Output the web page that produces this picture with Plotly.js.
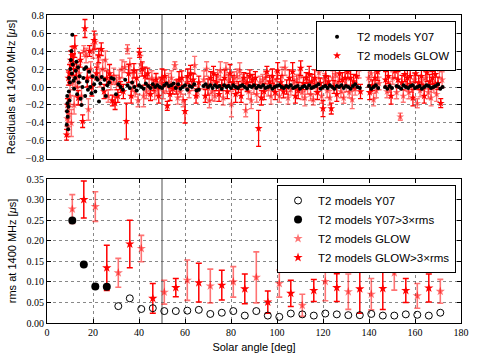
<!DOCTYPE html>
<html>
<head>
<meta charset="utf-8">
<script src="https://cdn.plot.ly/plotly-3.0.1.min.js"></script>
<style>
  html, body { margin: 0; padding: 0; background: #fff; }
  #plotArea { width: 480px; height: 360px; }
</style>
</head>
<body>
<div id="plotArea"></div>
<script>
// top panel: per-TOA residuals
var y07Angle = [
  8.6, 8.7, 8.8, 8.9, 9.0, 9.2, 9.3, 9.5, 9.6, 9.8, 10.0, 10.2, 10.4, 10.6, 10.8, 11.0, 11.2, 11.5, 11.8, 12.2, 12.5, 12.8, 13.1, 13.5, 13.8,
  14.2, 14.6, 15.0, 15.4, 15.8, 16.2, 16.6, 17.0, 17.4, 17.8, 18.3, 18.8, 19.3, 19.8, 20.5, 21.0, 21.5, 22.0, 22.6, 23.2, 23.8, 24.4, 25.0, 25.6, 26.2,
  27, 28, 29, 30, 31, 32, 33, 34, 35, 36, 37, 38, 39, 40, 41, 42, 43, 44, 45, 46, 47, 48,
  49, 50, 51, 52, 53, 54, 55, 56, 57, 58, 59, 60, 61, 62, 63, 64, 65, 66,
  68, 69, 70, 71, 72, 73, 74, 75, 76, 77, 78, 79, 80, 81, 82, 83, 84, 85, 86, 87, 88, 89, 90,
  91, 92, 93, 94, 95, 96, 97, 98, 99, 100, 101, 102, 103, 104, 105, 106, 107, 108, 109, 110, 111, 112, 113,
  114, 115, 116, 117, 118, 119, 120, 121, 122, 123, 124, 125, 126, 127, 128, 129, 130, 131, 132, 133, 134, 135, 136,
  140, 141, 142, 143, 144,
  147, 148, 149, 150,
  152, 153, 154, 155, 156, 157, 158, 159, 160, 161, 162, 163, 164, 165, 166, 167, 168, 169, 170, 171, 172
];
var y07Res = [
  -0.42, -0.27, -0.10, -0.18, -0.33, -0.47, -0.22, -0.05, 0.10, -0.15, 0.05, 0.20, 0.30, 0.40, 0.15, 0.58, 0.25, 0.07, -0.02, 0.10, 0.18, 0.28, -0.08, 0.22, 0.05,
  0.12, -0.13, -0.20, 0.00, 0.10, 0.20, -0.10, 0.22, 0.06, -0.03, 0.17, 0.00, -0.07, 0.12, 0.03, -0.05, 0.10, 0.08, -0.16, 0.04, 0.11, -0.02, 0.08, -0.10, 0.02,
  0.05, 0.10, 0.09, -0.08, 0.03, 0.00, -0.03, 0.08, 0.02, -0.01, 0.05, 0.00, -0.04, 0.02, 0.00, -0.02, 0.04, 0.01, -0.01, 0.03, 0.00, 0.02,
  0.00, -0.01, 0.02, 0.04, 0.01, 0.02, 0.04, -0.01, 0.03, -0.02, 0.00, 0.02, -0.03, 0.01, 0.00, 0.03, -0.04, -0.03,
  0.01, 0.03, 0.00, 0.02, -0.01, 0.02, 0.00, 0.01, -0.02, 0.02, 0.00, 0.01, -0.01, 0.02, 0.00, -0.01, 0.01, 0.02, 0.00, -0.02, 0.01, 0.00, 0.02,
  -0.01, 0.01, 0.00, 0.02, -0.01, 0.00, 0.01, -0.02, 0.00, 0.01, 0.02, 0.00, -0.01, 0.01, 0.00, 0.02, -0.01, 0.00, 0.01, -0.02, 0.00, 0.01, -0.01,
  0.02, -0.01, 0.00, 0.01, 0.03, -0.02, 0.00, 0.01, -0.01, 0.02, 0.00, -0.02, 0.01, 0.00, 0.02, -0.01, 0.01, 0.00, -0.02, 0.01, 0.03, 0.00, -0.01,
  0.01, -0.02, 0.00, 0.02, -0.01,
  0.00, -0.02, 0.01, -0.01,
  0.01, 0.00, -0.02, 0.02, 0.00, -0.01, 0.01, 0.02, -0.01, 0.00, 0.01, -0.02, 0.00, 0.02, 0.01, -0.01, 0.00, 0.01, 0.03, -0.02, 0.00
];

var glowAngle = [
  8.5, 8.7, 8.9, 9.1, 9.3, 9.5, 9.8, 10.0, 10.3, 10.6, 10.9, 11.2, 11.5, 11.8, 12.1, 12.4, 12.8, 13.2, 13.6,
  14.0, 14.5, 15.0, 15.5, 16.0, 16.5, 17.0, 17.5, 18.0, 18.5, 19.0, 19.5, 20.0, 20.5, 21.0, 21.5, 22.0, 22.5, 23.0, 23.6, 24.2, 24.8, 25.4, 26.0, 26.6, 27.2, 27.8, 28.4, 29.0, 29.6,
  30.2, 30.8, 31.4, 32.0, 32.6, 33.2, 33.8, 34.5, 35.0, 35.5, 36.0, 36.6, 37.2, 37.8, 38.4, 39.0, 39.6, 40.2, 40.8, 41.4, 42.0, 42.6, 43.2, 43.8, 44.4, 45.0, 45.6, 46.2, 46.8, 47.4, 48.0, 48.6, 49.2,
  50.0, 50.6, 51.2, 51.8, 52.3, 52.9, 53.5, 54.1, 54.7, 55.6, 56.2, 56.8, 57.4, 58.0, 58.6, 59.2, 60.0, 60.6, 61.2, 61.8, 62.4, 63.0, 63.6, 64.2, 64.8, 65.4, 66.0,
  68.2, 68.8, 69.4, 70.0, 70.6, 71.2, 71.8, 72.4, 73.0, 73.6, 74.2, 74.8, 75.4, 76.0, 76.6, 77.2, 77.8, 78.4, 79.0, 79.6, 80.2, 80.8, 81.4, 82.0, 82.6, 83.2, 83.8, 84.4, 85.0, 85.6,
  86.4, 87.0, 87.6, 88.2, 88.8, 89.4, 90.0, 90.6, 91.2, 92.0, 92.6, 93.2, 93.8, 94.4, 95.0, 95.6, 96.2, 96.8, 97.4, 98.0, 98.6, 99.2, 99.8,
  100.3, 101.0, 101.6, 102.2, 102.8, 103.5, 104.2, 104.8, 105.4, 106.0, 106.8, 107.4, 108.0, 108.6, 109.2, 109.8, 110.3, 110.9, 111.5, 112.1, 112.7, 113.3,
  114.0, 114.6, 115.2, 115.8, 116.4, 117.0, 117.6, 118.2, 118.8, 119.4, 120.0, 120.6, 121.2, 121.8, 122.4, 123.0, 123.6, 124.2, 124.8, 125.4, 126.0, 126.6,
  127.2, 127.8, 128.4, 129.0, 129.6, 130.2, 130.8, 131.4, 132.0, 132.7, 133.3, 134.0, 134.6, 135.7, 136.3,
  139.8, 140.3, 140.9, 141.5, 142.0, 142.6, 143.2, 143.8, 144.4,
  147.2, 147.8, 148.4, 149.0, 149.6, 150.3, 151.3, 152.0, 152.6, 153.6, 154.3, 154.9, 155.5, 156.1, 156.7, 157.3, 157.9, 158.5, 159.1, 159.7,
  160.3, 161.0, 161.6, 162.2, 162.8, 163.4, 164.0, 164.6, 165.2, 165.8, 166.4, 167.0, 167.6, 168.2, 168.8, 169.4, 170.0, 170.6, 171.2, 171.8
];
var glowRes = [
  -0.53, -0.35, -0.20, -0.45, 0.10, -0.30, 0.15, -0.10, 0.30, -0.40, 0.35, 0.05, 0.25, -0.20, 0.45, 0.10, 0.20, 0.00, -0.12,
  0.15, 0.30, -0.10, -0.38, 0.40, 0.65, 0.35, 0.10, -0.25, 0.40, 0.20, 0.00, 0.40, 0.52, 0.50, 0.15, 0.25, 0.35, 0.10, 0.42, 0.20, -0.05, 0.30, 0.10, -0.10, 0.15, 0.05, -0.15, 0.12, -0.18,
  0.05, -0.10, 0.10, 0.00, 0.20, -0.05, 0.22, -0.38, 0.42, 0.15, 0.25, -0.10, 0.05, 0.18, -0.05, 0.10, -0.15, 0.38, 0.25, 0.20, -0.10, 0.12, -0.05, 0.15, 0.00, -0.08, 0.10, 0.02, -0.05, 0.08, 0.00, -0.10, 0.05,
  0.10, -0.05, 0.12, 0.02, -0.21, 0.05, -0.08, 0.10, -0.02, 0.24, 0.00, -0.12, 0.08, -0.05, 0.10, -0.15, -0.27, 0.05, 0.12, -0.05, 0.15, 0.02, 0.08, 0.24, -0.10, -0.05, 0.05,
  0.08, -0.10, 0.20, 0.00, -0.15, 0.10, -0.05, 0.15, -0.10, 0.05, 0.12, -0.08, 0.18, 0.02, -0.12, 0.10, 0.20, -0.05, 0.08, 0.15, -0.19, 0.05, 0.10, -0.08, 0.12, 0.00, 0.18, -0.10, 0.06, 0.10,
  -0.26, 0.05, -0.05, 0.12, -0.15, 0.08, 0.00, 0.10, -0.08, -0.46, 0.05, -0.12, 0.08, -0.05, 0.10, 0.17, -0.02, 0.06, -0.10, 0.12, 0.02, -0.06, 0.08,
  0.18, -0.10, 0.05, 0.12, -0.05, 0.21, 0.00, -0.12, 0.10, -0.03, 0.17, 0.05, -0.10, 0.08, -0.04, 0.12, 0.21, -0.06, 0.04, -0.12, 0.10, 0.00,
  0.14, -0.08, 0.06, -0.14, 0.10, 0.02, -0.06, 0.16, 0.04, -0.10, -0.24, 0.08, 0.12, -0.04, 0.06, -0.12, -0.24, 0.10, 0.00, 0.14, -0.08, 0.05,
  0.15, -0.05, 0.08, -0.12, 0.10, 0.02, 0.17, -0.06, 0.10, -0.14, 0.06, -0.02, 0.12, 0.20, -0.05,
  0.10, -0.06, 0.15, 0.02, -0.14, 0.10, -0.04, 0.17, 0.04,
  0.08, -0.05, 0.12, 0.00, -0.10, 0.10, 0.18, -0.06, 0.08, -0.33, 0.05, -0.10, 0.14, 0.02, 0.10, -0.06, 0.12, 0.00, -0.12, 0.08,
  0.15, -0.18, 0.05, -0.04, 0.12, 0.02, -0.10, 0.10, 0.16, -0.06, 0.06, -0.12, 0.10, 0.00, 0.14, -0.08, 0.04, 0.20, -0.18, 0.08
];
var glowErr = [
  0.06, 0.08, 0.07, 0.10, 0.08, 0.09, 0.10, 0.12, 0.10, 0.15, 0.10, 0.08, 0.12, 0.10, 0.12, 0.10, 0.08, 0.10, 0.08,
  0.10, 0.08, 0.10, 0.07, 0.06, 0.10, 0.08, 0.10, 0.12, 0.06, 0.08, 0.10, 0.08, 0.10, 0.08, 0.07, 0.10, 0.08, 0.10, 0.07, 0.10, 0.08, 0.10, 0.08, 0.07, 0.10, 0.08, 0.06, 0.09, 0.07,
  0.08, 0.07, 0.09, 0.06, 0.10, 0.08, 0.06, 0.20, 0.05, 0.10, 0.07, 0.08, 0.10, 0.08, 0.06, 0.09, 0.07, 0.05, 0.10, 0.08, 0.12, 0.10, 0.08, 0.06, 0.09, 0.07, 0.08, 0.06, 0.09, 0.07, 0.10, 0.08, 0.06,
  0.10, 0.08, 0.07, 0.09, 0.05, 0.10, 0.07, 0.08, 0.06, 0.04, 0.08, 0.07, 0.09, 0.06, 0.08, 0.07, 0.13, 0.06, 0.08, 0.07, 0.09, 0.06, 0.07, 0.10, 0.08, 0.06, 0.07,
  0.10, 0.07, 0.08, 0.09, 0.08, 0.07, 0.10, 0.08, 0.06, 0.09, 0.07, 0.08, 0.10, 0.06, 0.08, 0.09, 0.07, 0.08, 0.06, 0.10, 0.14, 0.08, 0.07, 0.09, 0.08, 0.06, 0.09, 0.07, 0.08, 0.06,
  0.07, 0.10, 0.08, 0.07, 0.09, 0.06, 0.08, 0.07, 0.09, 0.20, 0.07, 0.08, 0.06, 0.09, 0.07, 0.06, 0.08, 0.07, 0.09, 0.08, 0.06, 0.08, 0.09,
  0.09, 0.07, 0.08, 0.10, 0.07, 0.08, 0.08, 0.07, 0.09, 0.06, 0.10, 0.07, 0.08, 0.06, 0.09, 0.07, 0.08, 0.08, 0.07, 0.09, 0.06, 0.08,
  0.09, 0.07, 0.08, 0.06, 0.09, 0.07, 0.08, 0.10, 0.06, 0.08, 0.09, 0.07, 0.09, 0.08, 0.06, 0.08, 0.06, 0.08, 0.07, 0.10, 0.08, 0.06,
  0.09, 0.07, 0.08, 0.06, 0.09, 0.07, 0.08, 0.06, 0.09, 0.10, 0.08, 0.07, 0.09, 0.10, 0.08,
  0.10, 0.08, 0.09, 0.06, 0.07, 0.10, 0.08, 0.10, 0.07,
  0.09, 0.07, 0.08, 0.06, 0.09, 0.07, 0.08, 0.07, 0.09, 0.04, 0.08, 0.07, 0.08, 0.06, 0.09, 0.07, 0.08, 0.06, 0.09, 0.07,
  0.10, 0.05, 0.08, 0.07, 0.09, 0.06, 0.08, 0.07, 0.10, 0.07, 0.08, 0.09, 0.07, 0.06, 0.10, 0.08, 0.07, 0.10, 0.05, 0.09
];

// bottom panel: rms per 5 deg bin
var y07BinAngle = [31, 36, 41, 46, 51, 56, 61, 66, 71, 76, 81, 86, 91, 96, 101, 106, 111, 116, 121, 126, 131, 136, 141, 146, 151, 156, 161, 166, 171];
var y07Rms = [0.041, 0.060, 0.034, 0.036, 0.029, 0.029, 0.030, 0.032, 0.022, 0.025, 0.029, 0.018, 0.029, 0.018, 0.015, 0.023, 0.021, 0.018, 0.023, 0.021, 0.019, 0.019, 0.022, 0.018, 0.018, 0.021, 0.020, 0.018, 0.025];
var y07HiAngle = [11, 16, 21, 26];
var y07HiRms = [0.249, 0.142, 0.089, 0.088];

var glowBinAngle = [11, 21, 31, 41, 51, 61, 71, 81, 91, 101, 111, 121, 131, 141, 151, 161, 171];
var glowRms = [0.277, 0.283, 0.122, 0.181, 0.075, 0.104, 0.090, 0.100, 0.111, 0.096, 0.043, 0.101, 0.076, 0.070, 0.122, 0.066, 0.077];
var glowRmsErr = [0.035, 0.036, 0.035, 0.032, 0.029, 0.049, 0.041, 0.037, 0.062, 0.033, 0.027, 0.047, 0.043, 0.038, 0.042, 0.030, 0.029];
var glowHiAngle = [16, 26, 36, 46, 56, 66, 76, 86, 96, 106, 116, 126, 136, 146, 156, 166];
var glowHiRms = [0.300, 0.134, 0.192, 0.060, 0.086, 0.098, 0.092, 0.083, 0.051, 0.072, 0.079, 0.086, 0.083, 0.084, 0.079, 0.085];
var glowHiErr = [0.045, 0.055, 0.058, 0.036, 0.022, 0.047, 0.036, 0.036, 0.027, 0.032, 0.027, 0.034, 0.059, 0.051, 0.029, 0.034];

var lightRed = "rgba(255,0,0,0.55)";

function pick(arr, parity) {
    return arr.filter(function(v, i) { return i % 2 === parity; });
}

var traces = [
    {
        x: pick(glowAngle, 1), y: pick(glowRes, 1),
        error_y: {type: "data", array: pick(glowErr, 1), color: lightRed, thickness: 1.4, width: 2.5},
        mode: "markers", type: "scatter", name: "T2 models GLOW", showlegend: false,
        marker: {symbol: "star", size: 6, color: lightRed},
        xaxis: "x", yaxis: "y"
    },
    {
        x: pick(glowAngle, 0), y: pick(glowRes, 0),
        error_y: {type: "data", array: pick(glowErr, 0), color: "red", thickness: 1.3, width: 2.5},
        mode: "markers", type: "scatter", name: "T2 models GLOW", legendrank: 2,
        marker: {symbol: "star", size: 6, color: "red"},
        xaxis: "x", yaxis: "y", legend: "legend"
    },
    {
        x: y07Angle, y: y07Res,
        mode: "markers", type: "scatter", name: "T2 models Y07", legendrank: 1,
        marker: {size: 4, color: "black"},
        xaxis: "x", yaxis: "y", legend: "legend"
    },
    {
        x: glowBinAngle, y: glowRms,
        error_y: {type: "data", array: glowRmsErr, color: lightRed, thickness: 1.6, width: 3},
        mode: "markers", type: "scatter", name: "T2 models GLOW", legendrank: 3,
        marker: {symbol: "star", size: 7, color: lightRed},
        xaxis: "x2", yaxis: "y2", legend: "legend2"
    },
    {
        x: glowHiAngle, y: glowHiRms,
        error_y: {type: "data", array: glowHiErr, color: "red", thickness: 1.5, width: 3},
        mode: "markers", type: "scatter", name: "T2 models GLOW&gt;3×rms", legendrank: 4,
        marker: {symbol: "star", size: 7, color: "red"},
        xaxis: "x2", yaxis: "y2", legend: "legend2"
    },
    {
        x: y07BinAngle, y: y07Rms,
        mode: "markers", type: "scatter", name: "T2 models Y07", legendrank: 1,
        marker: {symbol: "circle-open", size: 7, color: "black", line: {width: 1}},
        xaxis: "x2", yaxis: "y2", legend: "legend2"
    },
    {
        x: y07HiAngle, y: y07HiRms,
        mode: "markers", type: "scatter", name: "T2 models Y07&gt;3×rms", legendrank: 2,
        marker: {size: 8, color: "black"},
        xaxis: "x2", yaxis: "y2", legend: "legend2"
    }
];

var tickFont = {family: "Liberation Serif", size: 10, color: "black"};
var titleFont = {family: "Liberation Sans", size: 11, color: "black"};
var axisBase = {
    showline: true, mirror: "ticks", linecolor: "black", linewidth: 1,
    ticks: "inside", ticklen: 4, tickcolor: "black",
    showgrid: true, gridcolor: "#555", griddash: "dot", gridwidth: 0.7,
    zeroline: false, tickfont: tickFont
};

var legendBase = {
    xanchor: "right", yanchor: "top", x: 0.988,
    bgcolor: "white", bordercolor: "black", borderwidth: 1,
    font: {family: "Liberation Sans", size: 11.5, color: "black"},
    tracegroupgap: 0, traceorder: "normal"
};

var layout = {
    width: 480, height: 360,
    margin: {l: 47, r: 19, t: 15, b: 37},
    paper_bgcolor: "white", plot_bgcolor: "white",
    xaxis: Object.assign({}, axisBase, {
        domain: [0, 1], anchor: "y", range: [0, 180], dtick: 20, showticklabels: false
    }),
    yaxis: Object.assign({}, axisBase, {
        domain: [0.5325, 1], anchor: "x", range: [-0.8, 0.8], dtick: 0.2, tickformat: ".1f",
        title: {text: "Residuals at 1400 MHz [<i>μ</i>s]", font: titleFont, standoff: 7}
    }),
    xaxis2: Object.assign({}, axisBase, {
        domain: [0, 1], anchor: "y2", range: [0, 180], dtick: 20, tickformat: "d",
        title: {text: "Solar angle [deg]", font: titleFont, standoff: 6}
    }),
    yaxis2: Object.assign({}, axisBase, {
        domain: [0, 0.4675], anchor: "x2", range: [0, 0.35], dtick: 0.05, tickformat: ".2f",
        title: {text: "rms at 1400 MHz [<i>μ</i>s]", font: titleFont, standoff: 7}
    }),
    legend: Object.assign({}, legendBase, {y: 0.98}),
    legend2: Object.assign({}, legendBase, {y: 0.448}),
    shapes: [
        {type: "line", xref: "x", yref: "y domain", x0: 50, x1: 50, y0: 0, y1: 1,
         line: {color: "#888", width: 1.5}, layer: "below"},
        {type: "line", xref: "x2", yref: "y2 domain", x0: 50, x1: 50, y0: 0, y1: 1,
         line: {color: "#888", width: 1.5}, layer: "below"}
    ]
};

Plotly.newPlot("plotArea", traces, layout, {displayModeBar: false, staticPlot: true});
</script>
</body>
</html>
